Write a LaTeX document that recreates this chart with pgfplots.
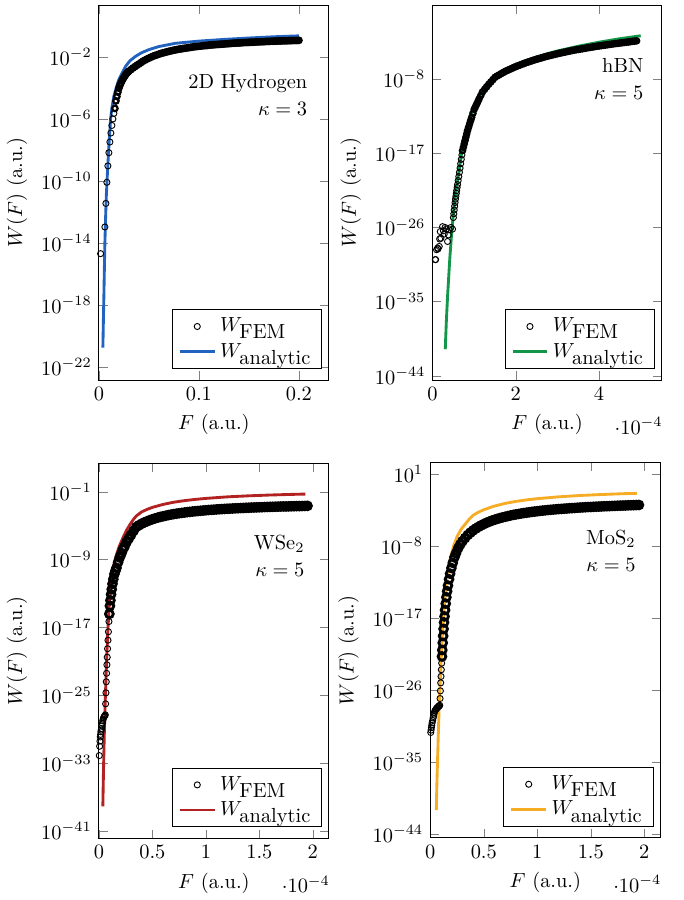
\documentclass[border=0pt]{standalone}
\usepackage{pgfplots}
\pgfplotsset{compat=1.18}
\definecolor{cblue}{RGB}{33,99,190}
\definecolor{cgreen}{RGB}{20,150,72}
\definecolor{cred}{RGB}{178,34,34}
\definecolor{corange}{RGB}{246,172,36}
\pgfplotsset{
  wpanel/.style={scale only axis,width=112.7pt,height=183.75pt,xmin=0,
    xlabel={$F$ (a.u.)},ylabel={$W(F)$ (a.u.)},
    legend style={at={(0.97,0.03)},anchor=south east},
    legend cell align=left},
  femthin/.style={only marks,mark=o,mark size=1.5pt,black,mark options={line width=0.45pt}},
  fembold/.style 2 args={only marks,mark=o,mark size=#1,black,mark options={line width=#2},forget plot},
  ana/.style={line width=1.4pt},
  e4/.style={scaled x ticks=manual:{$\cdot 10^{-4}$}{\pgfmathparse{##1}}},
}
\begin{document}
\begin{tikzpicture}
\path (0,0) rectangle (334.7pt,441pt);

% 2D hydrogen
\begin{axis}[wpanel,at={(48pt,254.8pt)},anchor=south west,
  xmax=0.23,ymin=-22.84,ymax=1.35,xtick={0,0.1,0.2},
  ytick={-22,-18,-14,-10,-6,-2},
  yticklabels={$10^{-22}$,$10^{-18}$,$10^{-14}$,$10^{-10}$,$10^{-6}$,$10^{-2}$}]
\addplot[femthin] coordinates {(0.0017,-14.69)
(0.006,-12.97)(0.007,-11.45)(0.008,-10.09)(0.009,-9.03)(0.010,-8.18)(0.011,-7.49)(0.012,-6.91)(0.013,-6.42)(0.014,-6.00)(0.015,-5.64)};
\addlegendentry{$W_{\mbox{FEM}}$}
\addplot[fembold={1.35pt}{1.1pt}] coordinates {(0.016,-5.32)(0.017,-4.84)(0.018,-4.55)(0.019,-4.27)(0.020,-4.02)(0.021,-3.84)(0.022,-3.69)(0.023,-3.55)(0.024,-3.43)(0.025,-3.32)(0.026,-3.22)(0.027,-3.12)(0.028,-3.04)(0.029,-2.98)(0.030,-2.92)
(0.032,-2.82)(0.034,-2.72)(0.036,-2.63)(0.038,-2.54)(0.040,-2.46)(0.042,-2.37)(0.044,-2.28)(0.046,-2.21)(0.048,-2.14)(0.050,-2.08)(0.052,-2.02)(0.054,-1.96)(0.056,-1.91)(0.058,-1.87)(0.060,-1.82)(0.062,-1.78)(0.064,-1.74)(0.066,-1.71)(0.068,-1.67)(0.070,-1.64)(0.072,-1.61)(0.074,-1.58)(0.076,-1.55)(0.078,-1.53)(0.080,-1.50)(0.082,-1.48)(0.084,-1.46)(0.086,-1.44)(0.088,-1.42)(0.090,-1.40)(0.092,-1.38)(0.094,-1.36)(0.096,-1.34)(0.098,-1.33)(0.100,-1.31)(0.102,-1.30)(0.104,-1.28)(0.106,-1.27)(0.108,-1.26)(0.110,-1.24)(0.112,-1.23)(0.114,-1.22)(0.116,-1.21)(0.118,-1.20)(0.120,-1.19)(0.122,-1.18)(0.124,-1.17)(0.126,-1.16)(0.128,-1.15)(0.130,-1.14)(0.132,-1.13)(0.134,-1.12)(0.136,-1.11)(0.138,-1.10)(0.140,-1.10)(0.142,-1.09)(0.144,-1.08)(0.146,-1.07)(0.148,-1.07)(0.150,-1.06)(0.152,-1.05)(0.154,-1.05)(0.156,-1.04)(0.158,-1.03)(0.160,-1.03)(0.162,-1.02)(0.164,-1.02)(0.166,-1.01)(0.168,-1.00)(0.170,-1.00)(0.172,-0.99)(0.174,-0.99)(0.176,-0.98)(0.178,-0.98)(0.180,-0.97)(0.182,-0.97)(0.184,-0.96)(0.186,-0.96)(0.188,-0.96)(0.190,-0.95)(0.192,-0.95)(0.194,-0.94)(0.196,-0.94)(0.198,-0.94)(0.200,-0.93)};
\addplot[ana,cblue] coordinates {(0.0040,-20.75)(0.0045,-19.0)(0.0050,-17.44)(0.0055,-15.6)(0.0060,-14.0)(0.0067,-12.4)(0.0074,-11.0)(0.0087,-9.27)(0.010,-7.77)(0.0117,-6.0)(0.013,-5.3)(0.015,-4.54)(0.0175,-3.95)(0.020,-3.46)(0.0235,-3.0)(0.0267,-2.61)(0.031,-2.25)(0.0367,-1.96)(0.043,-1.72)(0.050,-1.53)(0.060,-1.33)(0.0767,-1.12)(0.100,-0.98)(0.125,-0.87)(0.150,-0.78)(0.175,-0.70)(0.200,-0.64)};
\addlegendentry{$W_{\mbox{analytic}}$}
\node[anchor=north east,align=right] at (rel axis cs:0.937,0.834) {2D Hydrogen\\[1pt]$\kappa=3$};
\end{axis}

% hBN
\begin{axis}[wpanel,e4,at={(211.5pt,254.8pt)},anchor=south west,width=112.2pt,
  xmax=5.5,ymin=-44.5,ymax=0.98,xtick={0,2,4},
  ytick={-44,-35,-26,-17,-8},
  yticklabels={$10^{-44}$,$10^{-35}$,$10^{-26}$,$10^{-17}$,$10^{-8}$}]
\addplot[femthin] coordinates {(0.065,-29.9)(0.072,-29.9)(0.096,-28.7)(0.12,-28.5)(0.13,-28.6)(0.16,-28.3)(0.17,-27.4)(0.185,-26.5)(0.20,-27.3)(0.24,-25.9)(0.26,-26.4)(0.28,-26.8)(0.30,-26.0)(0.33,-26.2)(0.36,-27.7)(0.38,-26.9)(0.40,-26.3)(0.44,-26.0)(0.48,-26.2)
(0.50,-24.8)(0.51,-24.34)(0.52,-23.89)(0.53,-23.43)(0.54,-22.98)(0.55,-22.57)(0.56,-22.22)(0.57,-21.86)(0.58,-21.51)(0.59,-21.15)(0.60,-20.8)(0.615,-20.31)(0.63,-19.83)(0.645,-19.32)(0.66,-18.8)(0.675,-18.27)(0.69,-17.74)(0.705,-17.21)};
\addlegendentry{$W_{\mbox{FEM}}$}
\addplot[fembold={1.3pt}{1.1pt}] coordinates {(0.72,-16.68)(0.74,-16.28)(0.76,-15.87)(0.78,-15.46)(0.80,-15.06)(0.82,-14.66)(0.84,-14.25)(0.865,-13.85)(0.89,-13.44)(0.915,-13.03)(0.94,-12.64)(0.97,-12.16)(1.00,-11.68)(1.03,-11.36)(1.06,-11.03)(1.09,-10.72)(1.12,-10.39)(1.16,-9.98)(1.20,-9.56)(1.25,-9.25)(1.30,-8.94)(1.35,-8.63)(1.40,-8.35)(1.45,-8.07)
(1.50,-7.79)(1.55,-7.63)(1.60,-7.49)(1.65,-7.34)(1.70,-7.20)(1.75,-7.06)(1.80,-6.95)(1.85,-6.83)(1.90,-6.72)(1.95,-6.60)(2.00,-6.49)(2.05,-6.39)(2.10,-6.30)(2.15,-6.20)(2.20,-6.11)(2.25,-6.01)(2.30,-5.93)(2.35,-5.85)(2.40,-5.76)(2.45,-5.68)(2.50,-5.60)(2.55,-5.53)(2.60,-5.46)(2.65,-5.38)(2.70,-5.31)(2.75,-5.24)(2.80,-5.18)(2.85,-5.12)(2.90,-5.05)(2.95,-4.99)(3.00,-4.93)(3.05,-4.87)(3.10,-4.82)(3.15,-4.76)(3.20,-4.71)(3.25,-4.65)(3.30,-4.60)(3.35,-4.55)(3.40,-4.50)(3.45,-4.45)(3.50,-4.41)(3.55,-4.37)(3.60,-4.33)(3.65,-4.28)(3.70,-4.23)(3.75,-4.19)(3.80,-4.15)(3.85,-4.11)(3.90,-4.07)(3.95,-4.02)(4.00,-3.99)(4.05,-3.95)(4.10,-3.91)(4.15,-3.88)(4.20,-3.84)(4.25,-3.80)(4.30,-3.77)(4.35,-3.73)(4.40,-3.70)(4.45,-3.67)(4.50,-3.63)(4.55,-3.60)(4.60,-3.57)(4.65,-3.53)(4.70,-3.51)(4.75,-3.47)(4.80,-3.43)(4.85,-3.41)(4.90,-3.37)};
\addplot[ana,cgreen] coordinates {(0.305,-40.77)(0.33,-37.5)(0.36,-34.38)(0.39,-31.8)(0.417,-29.53)(0.465,-26.29)(0.5,-24.3)(0.545,-22.25)(0.6,-20.3)(0.64,-19.0)(0.72,-16.18)(0.84,-13.75)(1.0,-11.33)(1.2,-9.30)(1.35,-8.4)(1.5,-7.59)(1.75,-6.86)(2.0,-6.26)(2.25,-5.75)(2.5,-5.32)(2.75,-4.94)(3.0,-4.60)(3.5,-4.02)(4.0,-3.53)(4.5,-3.11)(5.0,-2.75)};
\addlegendentry{$W_{\mbox{analytic}}$}
\node[anchor=north east,align=right] at (rel axis cs:0.952,0.876) {hBN\\[1pt]$\kappa=5$};
\end{axis}

% WSe2
\begin{axis}[wpanel,e4,at={(48pt,30.2pt)},anchor=south west,
  xmax=2.15,ymin=-41.86,ymax=2.35,xtick={0,0.5,1,1.5,2},
  ytick={-41,-33,-25,-17,-9,-1},
  yticklabels={$10^{-41}$,$10^{-33}$,$10^{-25}$,$10^{-17}$,$10^{-9}$,$10^{-1}$}]
\addplot[femthin] coordinates {(0.004,-32.1)(0.007,-31.0)(0.010,-30.4)(0.013,-29.9)(0.016,-29.6)(0.019,-29.3)(0.022,-29.1)(0.025,-28.9)(0.028,-28.6)(0.032,-28.3)(0.036,-28.0)(0.040,-27.8)(0.045,-27.6)(0.050,-27.5)(0.055,-27.4)
(0.060,-27.3)(0.063,-26.0)(0.066,-24.7)(0.069,-23.4)(0.072,-22.4)(0.075,-21.4)(0.078,-20.5)(0.081,-19.5)(0.085,-18.5)(0.089,-17.5)(0.094,-16.3)};
\addlegendentry{$W_{\mbox{FEM}}$}
\addplot[fembold={1.9pt}{1.4pt}] coordinates {(0.098,-15.4)(0.103,-14.45)(0.108,-13.8)(0.114,-13.1)(0.12,-12.5)(0.127,-11.85)(0.135,-11.3)(0.145,-10.7)(0.155,-10.3)(0.165,-9.96)(0.18,-9.3)(0.195,-8.75)(0.21,-8.3)(0.225,-7.8)(0.24,-7.45)(0.26,-6.9)(0.28,-6.5)(0.30,-6.1)(0.325,-5.6)
(0.35,-5.15)(0.375,-4.95)(0.4,-4.77)(0.425,-4.61)(0.45,-4.48)(0.475,-4.35)(0.5,-4.24)(0.525,-4.14)(0.55,-4.05)(0.575,-3.96)(0.6,-3.89)(0.625,-3.82)(0.65,-3.75)(0.675,-3.69)(0.7,-3.63)(0.725,-3.58)(0.75,-3.53)(0.775,-3.49)(0.8,-3.45)(0.825,-3.40)(0.85,-3.37)(0.875,-3.33)(0.9,-3.30)(0.925,-3.27)(0.95,-3.24)(0.975,-3.21)(1.0,-3.18)(1.025,-3.15)(1.05,-3.13)(1.075,-3.11)(1.1,-3.08)(1.125,-3.06)(1.15,-3.04)(1.175,-3.02)(1.2,-3.00)(1.225,-2.99)(1.25,-2.97)(1.275,-2.95)(1.3,-2.94)(1.325,-2.92)(1.35,-2.91)(1.375,-2.89)(1.4,-2.88)(1.425,-2.86)(1.45,-2.85)(1.475,-2.84)(1.5,-2.83)(1.525,-2.82)(1.55,-2.80)(1.575,-2.79)(1.6,-2.78)(1.625,-2.77)(1.65,-2.76)(1.675,-2.75)(1.7,-2.74)(1.725,-2.73)(1.75,-2.73)(1.775,-2.72)(1.8,-2.71)(1.825,-2.70)(1.85,-2.69)(1.875,-2.69)(1.9,-2.68)(1.925,-2.67)(1.95,-2.66)};
\addplot[ana,cred] coordinates {(0.037,-38.1)(0.040,-35.9)(0.044,-33.3)(0.050,-29.9)(0.055,-27.5)(0.060,-25.4)(0.069,-22.0)(0.081,-18.08)(0.094,-14.93)(0.101,-13.3)(0.112,-11.9)(0.125,-10.6)(0.14,-9.6)(0.164,-8.45)(0.19,-7.45)(0.226,-6.4)(0.26,-5.5)(0.289,-4.9)(0.32,-4.3)(0.35,-3.85)(0.4,-3.37)(0.45,-3.08)(0.5,-2.84)(0.6,-2.49)(0.7,-2.23)(0.8,-2.045)(0.9,-1.90)(1.0,-1.78)(1.2,-1.60)(1.4,-1.477)(1.6,-1.383)(1.8,-1.309)(1.93,-1.27)};
\addlegendentry{$W_{\mbox{analytic}}$}
\node[anchor=north east,align=right] at (rel axis cs:0.925,0.827) {WSe$_2$\\[1pt]$\kappa=5$};
\end{axis}

% MoS2
\begin{axis}[wpanel,e4,at={(210.4pt,30.5pt)},anchor=south west,
  xmax=2.15,ymin=-44.46,ymax=2.41,xtick={0,0.5,1,1.5,2},
  ytick={-44,-35,-26,-17,-8,1},
  yticklabels={$10^{-44}$,$10^{-35}$,$10^{-26}$,$10^{-17}$,$10^{-8}$,$10^{1}$}]
\addplot[femthin] coordinates {(0.004,-31.3)(0.007,-31.0)(0.010,-30.7)(0.013,-30.4)(0.017,-30.1)(0.022,-29.8)(0.026,-29.5)(0.030,-29.3)(0.034,-29.0)(0.038,-28.8)(0.043,-28.6)(0.048,-28.5)(0.053,-28.4)(0.058,-28.3)(0.063,-28.2)(0.068,-28.2)(0.073,-28.1)(0.078,-28.0)(0.083,-28.0)
(0.088,-27.9)(0.091,-27.06)(0.094,-26.1)(0.097,-25.1)(0.100,-24.3)(0.103,-23.46)(0.106,-22.64)};
\addlegendentry{$W_{\mbox{FEM}}$}
\addplot[fembold={1.9pt}{1.4pt}] coordinates {(0.109,-21.8)(0.112,-21.0)(0.116,-20.1)(0.120,-19.24)(0.124,-18.36)(0.128,-17.55)(0.133,-16.8)(0.138,-16.0)(0.144,-15.2)(0.150,-14.4)(0.157,-13.65)(0.165,-12.94)(0.175,-12.15)(0.185,-11.45)(0.197,-10.75)(0.21,-10.1)(0.225,-9.42)(0.24,-8.9)(0.26,-8.28)(0.28,-7.8)(0.30,-7.4)(0.325,-7.0)
(0.35,-6.62)(0.375,-6.32)(0.4,-6.05)(0.425,-5.81)(0.45,-5.61)(0.475,-5.42)(0.5,-5.25)(0.525,-5.10)(0.55,-4.96)(0.575,-4.83)(0.6,-4.72)(0.625,-4.61)(0.65,-4.51)(0.675,-4.42)(0.7,-4.34)(0.725,-4.26)(0.75,-4.18)(0.775,-4.11)(0.8,-4.05)(0.825,-3.99)(0.85,-3.93)(0.875,-3.88)(0.9,-3.83)(0.925,-3.78)(0.95,-3.73)(0.975,-3.69)(1.0,-3.65)(1.025,-3.61)(1.05,-3.57)(1.075,-3.54)(1.1,-3.50)(1.125,-3.47)(1.15,-3.44)(1.175,-3.41)(1.2,-3.38)(1.225,-3.36)(1.25,-3.33)(1.275,-3.31)(1.3,-3.28)(1.325,-3.26)(1.35,-3.24)(1.375,-3.21)(1.4,-3.19)(1.425,-3.17)(1.45,-3.15)(1.475,-3.13)(1.5,-3.12)(1.525,-3.10)(1.55,-3.08)(1.575,-3.07)(1.6,-3.05)(1.625,-3.03)(1.65,-3.02)(1.675,-3.01)(1.7,-2.99)(1.725,-2.98)(1.75,-2.96)(1.775,-2.95)(1.8,-2.94)(1.825,-2.93)(1.85,-2.91)(1.875,-2.90)(1.9,-2.89)(1.925,-2.88)(1.95,-2.87)};
\addplot[ana,corange] coordinates {(0.056,-41.0)(0.060,-38.5)(0.065,-35.9)(0.070,-33.7)(0.074,-31.75)(0.084,-27.6)(0.097,-23.4)(0.112,-19.3)(0.127,-16.0)(0.14,-14.0)(0.153,-12.3)(0.17,-10.8)(0.19,-9.4)(0.22,-7.9)(0.251,-6.8)(0.288,-5.9)(0.33,-5.2)(0.36,-4.7)(0.4,-4.15)(0.45,-3.77)(0.5,-3.46)(0.6,-3.0)(0.7,-2.67)(0.8,-2.42)(0.9,-2.23)(1.0,-2.08)(1.2,-1.85)(1.4,-1.68)(1.6,-1.56)(1.8,-1.46)(1.93,-1.41)};
\addlegendentry{$W_{\mbox{analytic}}$}
\node[anchor=north east,align=right] at (rel axis cs:0.924,0.839) {MoS$_2$\\[1pt]$\kappa=5$};
\end{axis}
\end{tikzpicture}
\end{document}
